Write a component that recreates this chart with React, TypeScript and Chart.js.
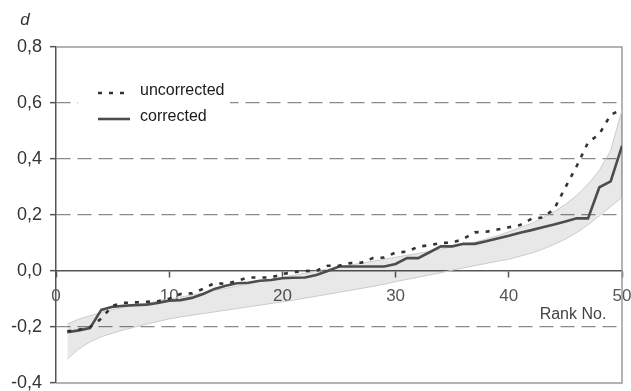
import { useEffect, useRef } from "react";
import { Chart, registerables } from "chart.js";

Chart.register(...registerables);

const FONT = "'Liberation Sans', Arial, Helvetica, sans-serif";

// Rank of each item (x axis)
const RANKS = [
  1, 2, 3, 4, 5, 6, 7, 8, 9, 10,
  11, 12, 13, 14, 15, 16, 17, 18, 19, 20,
  21, 22, 23, 24, 25, 26, 27, 28, 29, 30,
  31, 32, 33, 34, 35, 36, 37, 38, 39, 40,
  41, 42, 43, 44, 45, 46, 47, 48, 49, 50,
];

// Ranked d values before correction
const UNCORRECTED = [
  -0.215, -0.21, -0.2, -0.17, -0.124, -0.114, -0.112, -0.11, -0.108, -0.099,
  -0.082, -0.08, -0.064, -0.043, -0.046, -0.035, -0.023, -0.023, -0.023, -0.011,
  -0.004, 0.0, 0.001, 0.019, 0.019, 0.028, 0.03, 0.046, 0.048, 0.066,
  0.069, 0.087, 0.092, 0.1, 0.101, 0.115, 0.138, 0.14, 0.148, 0.156,
  0.164, 0.186, 0.191, 0.221, 0.299, 0.375, 0.459, 0.489, 0.558, 0.577,
];

// Ranked d values after correction
const CORRECTED = [
  -0.219, -0.212, -0.204, -0.139, -0.128, -0.124, -0.122, -0.12, -0.114, -0.106,
  -0.104, -0.096, -0.082, -0.064, -0.053, -0.044, -0.042, -0.035, -0.032, -0.026,
  -0.024, -0.023, -0.014, 0.0, 0.016, 0.016, 0.016, 0.016, 0.016, 0.025,
  0.046, 0.046, 0.067, 0.088, 0.088, 0.097, 0.097, 0.106, 0.116, 0.126,
  0.137, 0.146, 0.156, 0.166, 0.177, 0.188, 0.188, 0.299, 0.32, 0.447,
];

// Envelope of the expected distribution
const BAND_UPPER = [
  -0.19, -0.172, -0.16, -0.148, -0.138, -0.13, -0.122, -0.115, -0.108, -0.1,
  -0.093, -0.086, -0.078, -0.07, -0.062, -0.054, -0.046, -0.038, -0.03, -0.022,
  -0.015, -0.008, 0.0, 0.007, 0.014, 0.021, 0.028, 0.035, 0.042, 0.049,
  0.056, 0.063, 0.07, 0.078, 0.086, 0.094, 0.103, 0.114, 0.126, 0.14,
  0.155, 0.17, 0.19, 0.212, 0.238, 0.27, 0.31, 0.36, 0.43, 0.575,
];

const BAND_LOWER = [
  -0.314, -0.279, -0.253, -0.235, -0.222, -0.21, -0.2, -0.19, -0.18, -0.171,
  -0.164, -0.158, -0.152, -0.146, -0.14, -0.134, -0.128, -0.122, -0.116, -0.11,
  -0.104, -0.097, -0.09, -0.083, -0.076, -0.069, -0.062, -0.055, -0.047, -0.038,
  -0.03, -0.022, -0.014, -0.006, 0.003, 0.011, 0.019, 0.027, 0.035, 0.042,
  0.053, 0.064, 0.078, 0.095, 0.114, 0.137, 0.165, 0.197, 0.23, 0.263,
];

const SERIES_LABELS = ["uncorrected", "corrected"];
const X_TITLE = "Rank No.";
const Y_TITLE = "d";

const X_MIN = 0;
const X_MAX = 50;
const X_STEP = 10;
const Y_MIN = -0.4;
const Y_MAX = 0.8;
const Y_STEP = 0.2;

const toPoints = (values: number[]) =>
  values.map((v, i) => ({ x: RANKS[i], y: v }));

const isNear = (a: number, b: number) => Math.abs(a - b) < 1e-6;

// Frame, axis titles and the in-plot legend
const decorations = {
  id: "decorations",
  beforeDatasetsDraw(chart: any) {
    const { ctx, chartArea } = chart;
    const { left, right, top, bottom } = chartArea;
    const yScale = chart.scales.y;
    const zeroY = yScale.getPixelForValue(0);

    ctx.save();
    // light frame on top, right and bottom
    ctx.strokeStyle = "#9a9a9a";
    ctx.lineWidth = 1.5;
    ctx.setLineDash([]);
    ctx.beginPath();
    ctx.moveTo(left, top);
    ctx.lineTo(right, top);
    ctx.lineTo(right, bottom);
    ctx.lineTo(left, bottom);
    ctx.stroke();

    // legend
    const lx = left + 22;
    const ly = top + 28;
    ctx.fillStyle = "#ffffff";
    ctx.fillRect(lx, ly, 152, 56);

    const ds = chart.data.datasets;
    const rows = [0, 1];
    rows.forEach((idx, r) => {
      const d = ds[idx];
      const y = top + 46 + r * 26;
      ctx.beginPath();
      ctx.strokeStyle = d.borderColor;
      ctx.lineWidth = d.borderWidth;
      ctx.setLineDash(d.borderDash || []);
      ctx.moveTo(left + 42, y);
      ctx.lineTo(left + 74, y);
      ctx.stroke();
      ctx.setLineDash([]);
      ctx.fillStyle = "#1a1a1a";
      ctx.font = `16px ${FONT}`;
      ctx.textAlign = "left";
      ctx.textBaseline = "middle";
      ctx.fillText(d.label, left + 84, y - 2);
    });

    // x axis title
    ctx.fillStyle = "#444";
    ctx.font = `16px ${FONT}`;
    ctx.textAlign = "center";
    ctx.textBaseline = "middle";
    ctx.fillText(X_TITLE, right - 49, zeroY + 44);

    // y axis title
    ctx.fillStyle = "#333";
    ctx.font = `italic 17px ${FONT}`;
    ctx.fillText(Y_TITLE, left - 31, top - 27);
    ctx.restore();
  },
};

export default function App() {
  const canvasRef = useRef<HTMLCanvasElement | null>(null);

  useEffect(() => {
    const canvas = canvasRef.current;
    if (!canvas) return;

    const chart = new Chart(canvas, {
      type: "line",
      data: {
        datasets: [
          {
            label: SERIES_LABELS[0],
            data: toPoints(UNCORRECTED),
            borderColor: "#333333",
            borderWidth: 2.6,
            borderDash: [4, 7],
            pointRadius: 0,
            tension: 0,
            fill: false,
            order: 0,
          },
          {
            label: SERIES_LABELS[1],
            data: toPoints(CORRECTED),
            borderColor: "#4d4d4d",
            borderWidth: 2.6,
            pointRadius: 0,
            tension: 0,
            fill: false,
            order: 1,
          },
          {
            label: "lower",
            data: toPoints(BAND_LOWER),
            borderColor: "#cbcbcb",
            borderWidth: 1,
            pointRadius: 0,
            tension: 0,
            fill: false,
            order: 2,
          },
          {
            label: "upper",
            data: toPoints(BAND_UPPER),
            borderColor: "#cbcbcb",
            borderWidth: 1,
            pointRadius: 0,
            tension: 0,
            fill: "-1",
            backgroundColor: "rgba(0,0,0,0.09)",
            order: 3,
          },
        ],
      },
      options: {
        responsive: false,
        animation: false,
        maintainAspectRatio: false,
        layout: { padding: { left: 0, top: 47, right: 9, bottom: 8 } },
        plugins: {
          legend: { display: false },
          tooltip: { enabled: false },
        },
        scales: {
          x: {
            type: "linear",
            min: X_MIN,
            max: X_MAX,
            position: { y: 0 } as any,
            ticks: {
              stepSize: X_STEP,
              color: "#555",
              font: { size: 17, family: FONT },
              padding: 9,
              maxRotation: 0,
            },
            grid: {
              drawOnChartArea: false,
              drawTicks: true,
              tickLength: 6,
              tickColor: "#555",
              tickWidth: 1.5,
            },
            border: { display: true, color: "#555", width: 1.5 },
            // the axis sits inside the plot at d = 0, so it takes no layout room
            afterFit: (scale: any) => {
              scale.height = 0;
              scale.paddingLeft = 0;
              scale.paddingRight = 0;
            },
          },
          y: {
            type: "linear",
            min: Y_MIN,
            max: Y_MAX,
            ticks: {
              stepSize: Y_STEP,
              color: "#333",
              font: { size: 18, family: FONT },
              padding: 8,
              callback: (v: any) => Number(v).toFixed(1).replace(".", ","),
            },
            grid: {
              color: (c: any) => {
                const v = c.tick ? c.tick.value : 0;
                if (isNear(v, Y_MAX) || isNear(v, 0) || isNear(v, Y_MIN)) {
                  return "rgba(0,0,0,0)";
                }
                return "#8a8a8a";
              },
              lineWidth: 1.3,
              drawTicks: true,
              tickLength: 6,
              tickColor: "#555",
              tickWidth: 1.5,
            },
            border: { display: true, color: "#555", width: 1.5, dash: [14, 7] },
            afterFit: (scale: any) => {
              scale.width = 56;
              scale.paddingTop = 0;
              scale.paddingBottom = 0;
            },
          },
        },
      },
      plugins: [decorations],
    });

    return () => chart.destroy();
  }, []);

  return (
    <div style={{ position: "absolute", left: 0, top: 0, width: 631, height: 391, background: "#fff" }}>
      <canvas ref={canvasRef} width={631} height={391} />
    </div>
  );
}
